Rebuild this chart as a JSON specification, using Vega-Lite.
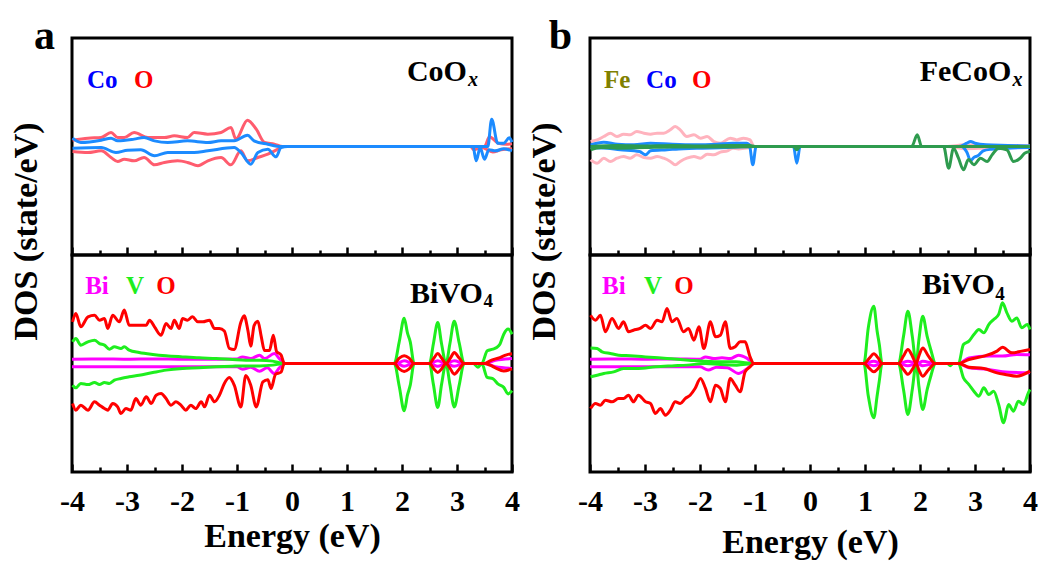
{
  "$schema": "https://vega.github.io/schema/vega-lite/v6.json",
  "background": "white",
  "padding": {"left": 7, "top": 13, "right": 5, "bottom": 5},
  "config": {
    "view": {"stroke": "black", "strokeWidth": 3},
    "axis": {"domain": false, "grid": false, "labelFont": "Liberation Serif", "labelFontWeight": "bold", "labelFontSize": 30, "labelColor": "black", "titleFont": "Liberation Serif", "titleFontWeight": "bold", "titleFontSize": 34, "titleColor": "black", "tickColor": "black", "tickWidth": 2.5},
    "text": {"font": "Liberation Serif", "fontWeight": "bold"},
    "line": {"strokeWidth": 3, "interpolate": "monotone"}
  },
  "datasets": {
    "aTop": [
      {"el":"O","sp":"u","e":-3.99,"d":0.58},{"el":"O","sp":"u","e":-3.71,"d":0.77},{"el":"O","sp":"u","e":-3.47,"d":0.83},{"el":"O","sp":"u","e":-3.29,"d":1.29},{"el":"O","sp":"u","e":-3.17,"d":0.83},{"el":"O","sp":"u","e":-3.05,"d":0.83},{"el":"O","sp":"u","e":-2.87,"d":1.29},{"el":"O","sp":"u","e":-2.62,"d":0.83},{"el":"O","sp":"u","e":-2.32,"d":0.83},{"el":"O","sp":"u","e":-2.14,"d":0.98},{"el":"O","sp":"u","e":-1.9,"d":0.83},{"el":"O","sp":"u","e":-1.78,"d":1.29},{"el":"O","sp":"u","e":-1.53,"d":1.14},{"el":"O","sp":"u","e":-1.29,"d":1.29},{"el":"O","sp":"u","e":-1.11,"d":1.75},{"el":"O","sp":"u","e":-1.02,"d":0.68},{"el":"O","sp":"u","e":-0.81,"d":2.43},{"el":"O","sp":"u","e":-0.65,"d":1.6},{"el":"O","sp":"u","e":-0.5,"d":0.37},{"el":"O","sp":"u","e":-0.32,"d":0.21},{"el":"O","sp":"u","e":-0.17,"d":0},{"el":"O","sp":"u","e":3.5,"d":0},{"el":"O","sp":"u","e":3.59,"d":0.9},{"el":"O","sp":"u","e":3.75,"d":0.3},{"el":"O","sp":"u","e":3.9,"d":0.2},{"el":"O","sp":"u","e":4,"d":0.25},
      {"el":"O","sp":"d","e":-3.99,"d":-0.46},{"el":"O","sp":"d","e":-3.71,"d":-0.55},{"el":"O","sp":"d","e":-3.47,"d":-0.4},{"el":"O","sp":"d","e":-3.29,"d":-1.01},{"el":"O","sp":"d","e":-3.17,"d":-1.38},{"el":"O","sp":"d","e":-3.05,"d":-1.17},{"el":"O","sp":"d","e":-2.87,"d":-1.32},{"el":"O","sp":"d","e":-2.69,"d":-1.01},{"el":"O","sp":"d","e":-2.5,"d":-1.69},{"el":"O","sp":"d","e":-2.32,"d":-1.47},{"el":"O","sp":"d","e":-2.08,"d":-1.32},{"el":"O","sp":"d","e":-1.9,"d":-1.47},{"el":"O","sp":"d","e":-1.71,"d":-1.78},{"el":"O","sp":"d","e":-1.53,"d":-1.32},{"el":"O","sp":"d","e":-1.29,"d":-1.01},{"el":"O","sp":"d","e":-1.11,"d":-1.69},{"el":"O","sp":"d","e":-0.93,"d":-0.4},{"el":"O","sp":"d","e":-0.81,"d":-1.32},{"el":"O","sp":"d","e":-0.62,"d":-1.01},{"el":"O","sp":"d","e":-0.44,"d":-0.71},{"el":"O","sp":"d","e":-0.26,"d":-0.25},{"el":"O","sp":"d","e":-0.17,"d":0},{"el":"O","sp":"d","e":3.25,"d":0},{"el":"O","sp":"d","e":3.3,"d":-0.3},{"el":"O","sp":"d","e":3.45,"d":-0.1},{"el":"O","sp":"d","e":3.65,"d":-0.5},{"el":"O","sp":"d","e":3.8,"d":-0.3},{"el":"O","sp":"d","e":4,"d":-0.2},
      {"el":"Co","sp":"u","e":-3.99,"d":0.77},{"el":"Co","sp":"u","e":-3.84,"d":0.37},{"el":"Co","sp":"u","e":-3.47,"d":0.58},{"el":"Co","sp":"u","e":-3.29,"d":0.77},{"el":"Co","sp":"u","e":-3.17,"d":0.52},{"el":"Co","sp":"u","e":-2.87,"d":0.68},{"el":"Co","sp":"u","e":-2.69,"d":0.83},{"el":"Co","sp":"u","e":-2.5,"d":0.52},{"el":"Co","sp":"u","e":-2.26,"d":0.37},{"el":"Co","sp":"u","e":-1.9,"d":0.52},{"el":"Co","sp":"u","e":-1.53,"d":0.37},{"el":"Co","sp":"u","e":-1.29,"d":0.52},{"el":"Co","sp":"u","e":-1.05,"d":0.52},{"el":"Co","sp":"u","e":-0.81,"d":1.04},{"el":"Co","sp":"u","e":-0.69,"d":0.52},{"el":"Co","sp":"u","e":-0.44,"d":0.21},{"el":"Co","sp":"u","e":-0.2,"d":0},{"el":"Co","sp":"u","e":3.56,"d":0},{"el":"Co","sp":"u","e":3.63,"d":2.52},{"el":"Co","sp":"u","e":3.74,"d":0.3},{"el":"Co","sp":"u","e":3.85,"d":0.3},{"el":"Co","sp":"u","e":3.95,"d":0.8},{"el":"Co","sp":"u","e":4,"d":0.4},
      {"el":"Co","sp":"d","e":-3.99,"d":-0.15},{"el":"Co","sp":"d","e":-3.47,"d":-0.1},{"el":"Co","sp":"d","e":-3.2,"d":-0.55},{"el":"Co","sp":"d","e":-2.99,"d":-0.34},{"el":"Co","sp":"d","e":-2.75,"d":-0.31},{"el":"Co","sp":"d","e":-2.5,"d":-0.86},{"el":"Co","sp":"d","e":-2.26,"d":-0.55},{"el":"Co","sp":"d","e":-1.78,"d":-0.55},{"el":"Co","sp":"d","e":-1.53,"d":-0.4},{"el":"Co","sp":"d","e":-1.05,"d":-0.1},{"el":"Co","sp":"d","e":-0.93,"d":-0.55},{"el":"Co","sp":"d","e":-0.75,"d":-1.63},{"el":"Co","sp":"d","e":-0.62,"d":-0.55},{"el":"Co","sp":"d","e":-0.44,"d":-0.25},{"el":"Co","sp":"d","e":-0.29,"d":-0.95},{"el":"Co","sp":"d","e":-0.2,"d":-0.1},{"el":"Co","sp":"d","e":-0.08,"d":0},{"el":"Co","sp":"d","e":3.29,"d":0},{"el":"Co","sp":"d","e":3.35,"d":-1.32},{"el":"Co","sp":"d","e":3.42,"d":-0.1},{"el":"Co","sp":"d","e":3.5,"d":-1.17},{"el":"Co","sp":"d","e":3.58,"d":-0.3},{"el":"Co","sp":"d","e":3.7,"d":-0.4},{"el":"Co","sp":"d","e":3.85,"d":-0.2},{"el":"Co","sp":"d","e":4,"d":-0.4}
    ],
    "aBot": [
      {"el":"Bi","sp":"u","e":-4,"d":0.4},{"el":"Bi","sp":"u","e":-3.5,"d":0.42},{"el":"Bi","sp":"u","e":-3,"d":0.4},{"el":"Bi","sp":"u","e":-2.5,"d":0.42},{"el":"Bi","sp":"u","e":-2,"d":0.4},{"el":"Bi","sp":"u","e":-1.5,"d":0.4},{"el":"Bi","sp":"u","e":-1,"d":0.42},{"el":"Bi","sp":"u","e":-0.9,"d":0.61},{"el":"Bi","sp":"u","e":-0.75,"d":0.45},{"el":"Bi","sp":"u","e":-0.59,"d":0.77},{"el":"Bi","sp":"u","e":-0.5,"d":0.45},{"el":"Bi","sp":"u","e":-0.32,"d":0.92},{"el":"Bi","sp":"u","e":-0.23,"d":0.45},{"el":"Bi","sp":"u","e":-0.12,"d":0},{"el":"Bi","sp":"u","e":1.9,"d":0},{"el":"Bi","sp":"u","e":2.04,"d":0.25},{"el":"Bi","sp":"u","e":2.2,"d":0},{"el":"Bi","sp":"u","e":2.5,"d":0},{"el":"Bi","sp":"u","e":2.65,"d":0.25},{"el":"Bi","sp":"u","e":2.8,"d":0},{"el":"Bi","sp":"u","e":2.95,"d":0.25},{"el":"Bi","sp":"u","e":3.13,"d":0},{"el":"Bi","sp":"u","e":3.5,"d":0},{"el":"Bi","sp":"u","e":3.7,"d":0.3},{"el":"Bi","sp":"u","e":4,"d":0.45},
      {"el":"Bi","sp":"d","e":-4,"d":-0.31},{"el":"Bi","sp":"d","e":-3,"d":-0.31},{"el":"Bi","sp":"d","e":-2,"d":-0.31},{"el":"Bi","sp":"d","e":-1,"d":-0.31},{"el":"Bi","sp":"d","e":-0.9,"d":-0.52},{"el":"Bi","sp":"d","e":-0.75,"d":-0.35},{"el":"Bi","sp":"d","e":-0.59,"d":-0.71},{"el":"Bi","sp":"d","e":-0.45,"d":-0.4},{"el":"Bi","sp":"d","e":-0.32,"d":-0.92},{"el":"Bi","sp":"d","e":-0.23,"d":-0.4},{"el":"Bi","sp":"d","e":-0.12,"d":0},{"el":"Bi","sp":"d","e":1.9,"d":0},{"el":"Bi","sp":"d","e":2.04,"d":-0.25},{"el":"Bi","sp":"d","e":2.2,"d":0},{"el":"Bi","sp":"d","e":2.5,"d":0},{"el":"Bi","sp":"d","e":2.65,"d":-0.25},{"el":"Bi","sp":"d","e":2.8,"d":0},{"el":"Bi","sp":"d","e":2.95,"d":-0.25},{"el":"Bi","sp":"d","e":3.13,"d":0},{"el":"Bi","sp":"d","e":3.5,"d":0},{"el":"Bi","sp":"d","e":3.7,"d":-0.3},{"el":"Bi","sp":"d","e":4,"d":-0.45},
      {"el":"V","sp":"u","e":-3.99,"d":2.0},{"el":"V","sp":"u","e":-3.93,"d":2.3},{"el":"V","sp":"u","e":-3.84,"d":1.69},{"el":"V","sp":"u","e":-3.71,"d":2.0},{"el":"V","sp":"u","e":-3.59,"d":2.15},{"el":"V","sp":"u","e":-3.5,"d":1.84},{"el":"V","sp":"u","e":-3.41,"d":1.69},{"el":"V","sp":"u","e":-3.32,"d":1.32},{"el":"V","sp":"u","e":-3.23,"d":1.54},{"el":"V","sp":"u","e":-3.11,"d":1.38},{"el":"V","sp":"u","e":-3.05,"d":1.54},{"el":"V","sp":"u","e":-2.96,"d":1.23},{"el":"V","sp":"u","e":-2.78,"d":1.01},{"el":"V","sp":"u","e":-2.53,"d":0.83},{"el":"V","sp":"u","e":-2.29,"d":0.71},{"el":"V","sp":"u","e":-1.99,"d":0.61},{"el":"V","sp":"u","e":-1.69,"d":0.52},{"el":"V","sp":"u","e":-1.38,"d":0.46},{"el":"V","sp":"u","e":-1.08,"d":0.37},{"el":"V","sp":"u","e":-0.84,"d":0.31},{"el":"V","sp":"u","e":-0.59,"d":0.31},{"el":"V","sp":"u","e":-0.35,"d":0.22},{"el":"V","sp":"u","e":-0.14,"d":0},{"el":"V","sp":"u","e":1.86,"d":0},{"el":"V","sp":"u","e":1.95,"d":2.0},{"el":"V","sp":"u","e":2.04,"d":4.18},{"el":"V","sp":"u","e":2.1,"d":2.8},{"el":"V","sp":"u","e":2.15,"d":2.0},{"el":"V","sp":"u","e":2.22,"d":0},{"el":"V","sp":"u","e":2.5,"d":0},{"el":"V","sp":"u","e":2.57,"d":1.8},{"el":"V","sp":"u","e":2.65,"d":3.78},{"el":"V","sp":"u","e":2.72,"d":1.8},{"el":"V","sp":"u","e":2.8,"d":0},{"el":"V","sp":"u","e":2.87,"d":1.8},{"el":"V","sp":"u","e":2.95,"d":3.9},{"el":"V","sp":"u","e":3.04,"d":1.9},{"el":"V","sp":"u","e":3.13,"d":0},{"el":"V","sp":"u","e":3.45,"d":0},{"el":"V","sp":"u","e":3.55,"d":1.17},{"el":"V","sp":"u","e":3.65,"d":1.32},{"el":"V","sp":"u","e":3.72,"d":1.47},{"el":"V","sp":"u","e":3.78,"d":1.78},{"el":"V","sp":"u","e":3.85,"d":2.7},{"el":"V","sp":"u","e":3.93,"d":3.17},{"el":"V","sp":"u","e":4,"d":2.7},
      {"el":"V","sp":"d","e":-3.99,"d":-2.0},{"el":"V","sp":"d","e":-3.93,"d":-2.24},{"el":"V","sp":"d","e":-3.84,"d":-1.84},{"el":"V","sp":"d","e":-3.71,"d":-1.94},{"el":"V","sp":"d","e":-3.59,"d":-1.75},{"el":"V","sp":"d","e":-3.5,"d":-1.94},{"el":"V","sp":"d","e":-3.41,"d":-1.75},{"el":"V","sp":"d","e":-3.32,"d":-1.84},{"el":"V","sp":"d","e":-3.23,"d":-1.54},{"el":"V","sp":"d","e":-3.11,"d":-1.38},{"el":"V","sp":"d","e":-2.96,"d":-1.23},{"el":"V","sp":"d","e":-2.78,"d":-1.08},{"el":"V","sp":"d","e":-2.53,"d":-0.83},{"el":"V","sp":"d","e":-2.29,"d":-0.61},{"el":"V","sp":"d","e":-1.99,"d":-0.46},{"el":"V","sp":"d","e":-1.69,"d":-0.4},{"el":"V","sp":"d","e":-1.38,"d":-0.31},{"el":"V","sp":"d","e":-1.08,"d":-0.25},{"el":"V","sp":"d","e":-0.84,"d":-0.22},{"el":"V","sp":"d","e":-0.59,"d":-0.22},{"el":"V","sp":"d","e":-0.35,"d":-0.15},{"el":"V","sp":"d","e":-0.14,"d":0},{"el":"V","sp":"d","e":1.86,"d":0},{"el":"V","sp":"d","e":1.95,"d":-2.1},{"el":"V","sp":"d","e":2.04,"d":-4.36},{"el":"V","sp":"d","e":2.1,"d":-2.9},{"el":"V","sp":"d","e":2.15,"d":-2.0},{"el":"V","sp":"d","e":2.22,"d":0},{"el":"V","sp":"d","e":2.5,"d":0},{"el":"V","sp":"d","e":2.57,"d":-1.9},{"el":"V","sp":"d","e":2.65,"d":-4.05},{"el":"V","sp":"d","e":2.72,"d":-1.9},{"el":"V","sp":"d","e":2.8,"d":0},{"el":"V","sp":"d","e":2.87,"d":-1.9},{"el":"V","sp":"d","e":2.95,"d":-4.0},{"el":"V","sp":"d","e":3.04,"d":-2.0},{"el":"V","sp":"d","e":3.13,"d":0},{"el":"V","sp":"d","e":3.3,"d":0},{"el":"V","sp":"d","e":3.38,"d":-0.35},{"el":"V","sp":"d","e":3.45,"d":0},{"el":"V","sp":"d","e":3.55,"d":-1.29},{"el":"V","sp":"d","e":3.65,"d":-1.4},{"el":"V","sp":"d","e":3.75,"d":-1.9},{"el":"V","sp":"d","e":3.85,"d":-2.2},{"el":"V","sp":"d","e":3.93,"d":-2.8},{"el":"V","sp":"d","e":4,"d":-2.5},
      {"el":"O","sp":"u","e":-3.99,"d":3.84},{"el":"O","sp":"u","e":-3.93,"d":4.61},{"el":"O","sp":"u","e":-3.84,"d":3.38},{"el":"O","sp":"u","e":-3.71,"d":4.3},{"el":"O","sp":"u","e":-3.59,"d":4.45},{"el":"O","sp":"u","e":-3.5,"d":3.99},{"el":"O","sp":"u","e":-3.41,"d":4.15},{"el":"O","sp":"u","e":-3.35,"d":3.23},{"el":"O","sp":"u","e":-3.26,"d":4.45},{"el":"O","sp":"u","e":-3.14,"d":3.84},{"el":"O","sp":"u","e":-3.05,"d":4.92},{"el":"O","sp":"u","e":-2.96,"d":3.53},{"el":"O","sp":"u","e":-2.84,"d":3.53},{"el":"O","sp":"u","e":-2.65,"d":3.53},{"el":"O","sp":"u","e":-2.59,"d":3.99},{"el":"O","sp":"u","e":-2.5,"d":3.38},{"el":"O","sp":"u","e":-2.38,"d":2.61},{"el":"O","sp":"u","e":-2.29,"d":3.69},{"el":"O","sp":"u","e":-2.2,"d":3.23},{"el":"O","sp":"u","e":-2.14,"d":3.99},{"el":"O","sp":"u","e":-2.05,"d":3.23},{"el":"O","sp":"u","e":-1.99,"d":4.15},{"el":"O","sp":"u","e":-1.9,"d":3.99},{"el":"O","sp":"u","e":-1.81,"d":4.3},{"el":"O","sp":"u","e":-1.71,"d":3.84},{"el":"O","sp":"u","e":-1.62,"d":3.84},{"el":"O","sp":"u","e":-1.5,"d":3.99},{"el":"O","sp":"u","e":-1.41,"d":3.23},{"el":"O","sp":"u","e":-1.32,"d":3.23},{"el":"O","sp":"u","e":-1.23,"d":3.0},{"el":"O","sp":"u","e":-1.14,"d":1.4},{"el":"O","sp":"u","e":-1.05,"d":1.3},{"el":"O","sp":"u","e":-0.93,"d":3.8},{"el":"O","sp":"u","e":-0.87,"d":4.4},{"el":"O","sp":"u","e":-0.8,"d":3.0},{"el":"O","sp":"u","e":-0.75,"d":1.6},{"el":"O","sp":"u","e":-0.69,"d":3.5},{"el":"O","sp":"u","e":-0.62,"d":3.9},{"el":"O","sp":"u","e":-0.56,"d":2.5},{"el":"O","sp":"u","e":-0.5,"d":1.2},{"el":"O","sp":"u","e":-0.41,"d":1.2},{"el":"O","sp":"u","e":-0.34,"d":2.6},{"el":"O","sp":"u","e":-0.28,"d":1.1},{"el":"O","sp":"u","e":-0.2,"d":0.8},{"el":"O","sp":"u","e":-0.14,"d":0},{"el":"O","sp":"u","e":1.86,"d":0},{"el":"O","sp":"u","e":1.95,"d":0.5},{"el":"O","sp":"u","e":2.04,"d":0.71},{"el":"O","sp":"u","e":2.13,"d":0.5},{"el":"O","sp":"u","e":2.22,"d":0},{"el":"O","sp":"u","e":2.5,"d":0},{"el":"O","sp":"u","e":2.58,"d":0.5},{"el":"O","sp":"u","e":2.65,"d":0.92},{"el":"O","sp":"u","e":2.72,"d":0.5},{"el":"O","sp":"u","e":2.8,"d":0},{"el":"O","sp":"u","e":2.88,"d":0.5},{"el":"O","sp":"u","e":2.95,"d":1.01},{"el":"O","sp":"u","e":3.04,"d":0.5},{"el":"O","sp":"u","e":3.13,"d":0},{"el":"O","sp":"u","e":3.5,"d":0},{"el":"O","sp":"u","e":3.6,"d":0.25},{"el":"O","sp":"u","e":3.78,"d":0.55},{"el":"O","sp":"u","e":3.9,"d":0.8},{"el":"O","sp":"u","e":4,"d":0.9},
      {"el":"O","sp":"d","e":-3.99,"d":-3.69},{"el":"O","sp":"d","e":-3.93,"d":-4.3},{"el":"O","sp":"d","e":-3.84,"d":-3.84},{"el":"O","sp":"d","e":-3.71,"d":-4.3},{"el":"O","sp":"d","e":-3.59,"d":-3.53},{"el":"O","sp":"d","e":-3.5,"d":-3.84},{"el":"O","sp":"d","e":-3.41,"d":-4.15},{"el":"O","sp":"d","e":-3.35,"d":-4.3},{"el":"O","sp":"d","e":-3.26,"d":-3.69},{"el":"O","sp":"d","e":-3.17,"d":-3.99},{"el":"O","sp":"d","e":-3.11,"d":-4.61},{"el":"O","sp":"d","e":-3.02,"d":-4.15},{"el":"O","sp":"d","e":-2.93,"d":-4.3},{"el":"O","sp":"d","e":-2.84,"d":-3.23},{"el":"O","sp":"d","e":-2.75,"d":-3.84},{"el":"O","sp":"d","e":-2.65,"d":-3.07},{"el":"O","sp":"d","e":-2.56,"d":-3.69},{"el":"O","sp":"d","e":-2.47,"d":-2.92},{"el":"O","sp":"d","e":-2.38,"d":-2.76},{"el":"O","sp":"d","e":-2.29,"d":-3.23},{"el":"O","sp":"d","e":-2.2,"d":-3.84},{"el":"O","sp":"d","e":-2.11,"d":-3.53},{"el":"O","sp":"d","e":-2.02,"d":-3.84},{"el":"O","sp":"d","e":-1.93,"d":-4.3},{"el":"O","sp":"d","e":-1.84,"d":-3.84},{"el":"O","sp":"d","e":-1.75,"d":-4.15},{"el":"O","sp":"d","e":-1.65,"d":-3.53},{"el":"O","sp":"d","e":-1.59,"d":-3.99},{"el":"O","sp":"d","e":-1.5,"d":-2.92},{"el":"O","sp":"d","e":-1.41,"d":-3.53},{"el":"O","sp":"d","e":-1.32,"d":-2.92},{"el":"O","sp":"d","e":-1.23,"d":-1.84},{"el":"O","sp":"d","e":-1.14,"d":-1.3},{"el":"O","sp":"d","e":-1.05,"d":-2.0},{"el":"O","sp":"d","e":-0.93,"d":-4.0},{"el":"O","sp":"d","e":-0.84,"d":-1.1},{"el":"O","sp":"d","e":-0.75,"d":-2.0},{"el":"O","sp":"d","e":-0.65,"d":-4.0},{"el":"O","sp":"d","e":-0.53,"d":-1.7},{"el":"O","sp":"d","e":-0.44,"d":-1.5},{"el":"O","sp":"d","e":-0.38,"d":-2.3},{"el":"O","sp":"d","e":-0.3,"d":-1.0},{"el":"O","sp":"d","e":-0.2,"d":-0.8},{"el":"O","sp":"d","e":-0.14,"d":0},{"el":"O","sp":"d","e":1.86,"d":0},{"el":"O","sp":"d","e":1.95,"d":-0.5},{"el":"O","sp":"d","e":2.04,"d":-0.74},{"el":"O","sp":"d","e":2.13,"d":-0.5},{"el":"O","sp":"d","e":2.22,"d":0},{"el":"O","sp":"d","e":2.5,"d":0},{"el":"O","sp":"d","e":2.58,"d":-0.5},{"el":"O","sp":"d","e":2.65,"d":-0.83},{"el":"O","sp":"d","e":2.72,"d":-0.5},{"el":"O","sp":"d","e":2.8,"d":0},{"el":"O","sp":"d","e":2.88,"d":-0.5},{"el":"O","sp":"d","e":2.95,"d":-0.98},{"el":"O","sp":"d","e":3.04,"d":-0.5},{"el":"O","sp":"d","e":3.13,"d":0},{"el":"O","sp":"d","e":3.5,"d":0},{"el":"O","sp":"d","e":3.6,"d":-0.15},{"el":"O","sp":"d","e":3.7,"d":-0.4},{"el":"O","sp":"d","e":3.85,"d":-0.68},{"el":"O","sp":"d","e":4,"d":-0.5}
    ],
    "bTop": [
      {"el":"O","sp":"u","e":-3.99,"d":0.46},{"el":"O","sp":"u","e":-3.87,"d":0.61},{"el":"O","sp":"u","e":-3.75,"d":0.92},{"el":"O","sp":"u","e":-3.63,"d":1.23},{"el":"O","sp":"u","e":-3.51,"d":0.92},{"el":"O","sp":"u","e":-3.39,"d":1.14},{"el":"O","sp":"u","e":-3.27,"d":1.08},{"el":"O","sp":"u","e":-3.15,"d":1.38},{"el":"O","sp":"u","e":-3.02,"d":1.23},{"el":"O","sp":"u","e":-2.9,"d":1.14},{"el":"O","sp":"u","e":-2.78,"d":1.23},{"el":"O","sp":"u","e":-2.66,"d":1.23},{"el":"O","sp":"u","e":-2.54,"d":1.54},{"el":"O","sp":"u","e":-2.45,"d":1.84},{"el":"O","sp":"u","e":-2.36,"d":1.54},{"el":"O","sp":"u","e":-2.24,"d":0.92},{"el":"O","sp":"u","e":-2.11,"d":1.08},{"el":"O","sp":"u","e":-1.99,"d":0.77},{"el":"O","sp":"u","e":-1.87,"d":0.92},{"el":"O","sp":"u","e":-1.75,"d":0.46},{"el":"O","sp":"u","e":-1.63,"d":0.31},{"el":"O","sp":"u","e":-1.45,"d":0.77},{"el":"O","sp":"u","e":-1.33,"d":0.61},{"el":"O","sp":"u","e":-1.21,"d":0.77},{"el":"O","sp":"u","e":-1.09,"d":0.61},{"el":"O","sp":"u","e":-1.02,"d":0},{"el":"O","sp":"u","e":2.5,"d":0},{"el":"O","sp":"u","e":2.8,"d":0.15},{"el":"O","sp":"u","e":3.2,"d":0.1},{"el":"O","sp":"u","e":3.6,"d":0.1},{"el":"O","sp":"u","e":4,"d":0.05},
      {"el":"O","sp":"d","e":-3.99,"d":-1.23},{"el":"O","sp":"d","e":-3.87,"d":-1.54},{"el":"O","sp":"d","e":-3.75,"d":-1.08},{"el":"O","sp":"d","e":-3.63,"d":-1.38},{"el":"O","sp":"d","e":-3.51,"d":-1.08},{"el":"O","sp":"d","e":-3.39,"d":-0.92},{"el":"O","sp":"d","e":-3.27,"d":-1.08},{"el":"O","sp":"d","e":-3.15,"d":-0.77},{"el":"O","sp":"d","e":-3.02,"d":-1.01},{"el":"O","sp":"d","e":-2.9,"d":-1.08},{"el":"O","sp":"d","e":-2.78,"d":-0.92},{"el":"O","sp":"d","e":-2.66,"d":-1.08},{"el":"O","sp":"d","e":-2.54,"d":-1.38},{"el":"O","sp":"d","e":-2.45,"d":-1.69},{"el":"O","sp":"d","e":-2.36,"d":-1.38},{"el":"O","sp":"d","e":-2.24,"d":-1.08},{"el":"O","sp":"d","e":-2.11,"d":-0.92},{"el":"O","sp":"d","e":-1.99,"d":-1.08},{"el":"O","sp":"d","e":-1.87,"d":-0.71},{"el":"O","sp":"d","e":-1.75,"d":-0.77},{"el":"O","sp":"d","e":-1.63,"d":-0.52},{"el":"O","sp":"d","e":-1.5,"d":-0.4},{"el":"O","sp":"d","e":-1.4,"d":-0.15},{"el":"O","sp":"d","e":-1.3,"d":-0.22},{"el":"O","sp":"d","e":-1.15,"d":-0.15},{"el":"O","sp":"d","e":-1.02,"d":0},{"el":"O","sp":"d","e":2.5,"d":0},{"el":"O","sp":"d","e":2.8,"d":-0.2},{"el":"O","sp":"d","e":3.2,"d":-0.15},{"el":"O","sp":"d","e":3.6,"d":-0.1},{"el":"O","sp":"d","e":4,"d":-0.05},
      {"el":"Co","sp":"u","e":-3.99,"d":0.15},{"el":"Co","sp":"u","e":-3.75,"d":0.4},{"el":"Co","sp":"u","e":-3.5,"d":0.2},{"el":"Co","sp":"u","e":-3.2,"d":0.15},{"el":"Co","sp":"u","e":-2.9,"d":0.3},{"el":"Co","sp":"u","e":-2.5,"d":0.2},{"el":"Co","sp":"u","e":-2.1,"d":0.15},{"el":"Co","sp":"u","e":-1.7,"d":0.2},{"el":"Co","sp":"u","e":-1.4,"d":0.3},{"el":"Co","sp":"u","e":-1.15,"d":0.3},{"el":"Co","sp":"u","e":-1.05,"d":0},{"el":"Co","sp":"u","e":2.7,"d":0},{"el":"Co","sp":"u","e":2.85,"d":0.3},{"el":"Co","sp":"u","e":2.92,"d":0.46},{"el":"Co","sp":"u","e":3.0,"d":0.3},{"el":"Co","sp":"u","e":3.2,"d":0.15},{"el":"Co","sp":"u","e":3.6,"d":0.1},{"el":"Co","sp":"u","e":4,"d":0.05},
      {"el":"Co","sp":"d","e":-3.99,"d":-0.1},{"el":"Co","sp":"d","e":-3.75,"d":-0.15},{"el":"Co","sp":"d","e":-3.45,"d":-0.3},{"el":"Co","sp":"d","e":-3.1,"d":-0.46},{"el":"Co","sp":"d","e":-2.99,"d":-0.77},{"el":"Co","sp":"d","e":-2.9,"d":-0.4},{"el":"Co","sp":"d","e":-2.6,"d":-0.3},{"el":"Co","sp":"d","e":-2.3,"d":-0.2},{"el":"Co","sp":"d","e":-2.0,"d":-0.15},{"el":"Co","sp":"d","e":-1.5,"d":-0.1},{"el":"Co","sp":"d","e":-1.1,"d":0},{"el":"Co","sp":"d","e":-1.04,"d":-1.69},{"el":"Co","sp":"d","e":-0.98,"d":0},{"el":"Co","sp":"d","e":-0.3,"d":0},{"el":"Co","sp":"d","e":-0.24,"d":-1.54},{"el":"Co","sp":"d","e":-0.18,"d":0},{"el":"Co","sp":"d","e":2.75,"d":0},{"el":"Co","sp":"d","e":2.85,"d":-0.5},{"el":"Co","sp":"d","e":2.92,"d":-1.3},{"el":"Co","sp":"d","e":2.98,"d":-1.0},{"el":"Co","sp":"d","e":3.05,"d":-0.86},{"el":"Co","sp":"d","e":3.15,"d":-0.4},{"el":"Co","sp":"d","e":3.3,"d":-0.25},{"el":"Co","sp":"d","e":3.6,"d":-0.15},{"el":"Co","sp":"d","e":4,"d":-0.1},
      {"el":"Fe","sp":"u","e":-3.99,"d":0.0},{"el":"Fe","sp":"u","e":-3.5,"d":0.1},{"el":"Fe","sp":"u","e":-3.0,"d":0.05},{"el":"Fe","sp":"u","e":-2.5,"d":0.1},{"el":"Fe","sp":"u","e":-2.0,"d":0.05},{"el":"Fe","sp":"u","e":-1.5,"d":0.1},{"el":"Fe","sp":"u","e":-1.1,"d":0.1},{"el":"Fe","sp":"u","e":-1.0,"d":0},{"el":"Fe","sp":"u","e":1.85,"d":0},{"el":"Fe","sp":"u","e":1.95,"d":1.08},{"el":"Fe","sp":"u","e":2.03,"d":0},{"el":"Fe","sp":"u","e":4,"d":0},
      {"el":"Fe","sp":"d","e":-3.99,"d":-0.3},{"el":"Fe","sp":"d","e":-3.8,"d":-0.1},{"el":"Fe","sp":"d","e":-3.5,"d":-0.15},{"el":"Fe","sp":"d","e":-3.0,"d":-0.1},{"el":"Fe","sp":"d","e":-2.5,"d":-0.05},{"el":"Fe","sp":"d","e":-2.0,"d":-0.05},{"el":"Fe","sp":"d","e":-1.5,"d":-0.05},{"el":"Fe","sp":"d","e":-1.0,"d":0},{"el":"Fe","sp":"d","e":-0.3,"d":0},{"el":"Fe","sp":"d","e":-0.24,"d":-0.3},{"el":"Fe","sp":"d","e":-0.18,"d":0},{"el":"Fe","sp":"d","e":2.43,"d":0},{"el":"Fe","sp":"d","e":2.52,"d":-2.0},{"el":"Fe","sp":"d","e":2.61,"d":-0.15},{"el":"Fe","sp":"d","e":2.7,"d":-1.08},{"el":"Fe","sp":"d","e":2.79,"d":-2.15},{"el":"Fe","sp":"d","e":2.88,"d":-1.2},{"el":"Fe","sp":"d","e":2.98,"d":-1.69},{"el":"Fe","sp":"d","e":3.1,"d":-1.08},{"el":"Fe","sp":"d","e":3.22,"d":-1.38},{"el":"Fe","sp":"d","e":3.31,"d":-0.77},{"el":"Fe","sp":"d","e":3.43,"d":-0.15},{"el":"Fe","sp":"d","e":3.58,"d":-0.3},{"el":"Fe","sp":"d","e":3.7,"d":-1.38},{"el":"Fe","sp":"d","e":3.82,"d":-1.08},{"el":"Fe","sp":"d","e":3.91,"d":-0.6},{"el":"Fe","sp":"d","e":4,"d":-0.46}
    ],
    "bBot": [
      {"el":"Bi","sp":"u","e":-4,"d":0.4},{"el":"Bi","sp":"u","e":-3.5,"d":0.42},{"el":"Bi","sp":"u","e":-3,"d":0.4},{"el":"Bi","sp":"u","e":-2.5,"d":0.42},{"el":"Bi","sp":"u","e":-2,"d":0.4},{"el":"Bi","sp":"u","e":-1.9,"d":0.61},{"el":"Bi","sp":"u","e":-1.75,"d":0.45},{"el":"Bi","sp":"u","e":-1.6,"d":0.52},{"el":"Bi","sp":"u","e":-1.45,"d":0.45},{"el":"Bi","sp":"u","e":-1.3,"d":0.77},{"el":"Bi","sp":"u","e":-1.15,"d":0.5},{"el":"Bi","sp":"u","e":-1.02,"d":0},{"el":"Bi","sp":"u","e":0.98,"d":0},{"el":"Bi","sp":"u","e":1.16,"d":0.2},{"el":"Bi","sp":"u","e":1.31,"d":0},{"el":"Bi","sp":"u","e":1.61,"d":0},{"el":"Bi","sp":"u","e":1.78,"d":0.2},{"el":"Bi","sp":"u","e":1.95,"d":0},{"el":"Bi","sp":"u","e":2.05,"d":0.2},{"el":"Bi","sp":"u","e":2.28,"d":0},{"el":"Bi","sp":"u","e":2.7,"d":0},{"el":"Bi","sp":"u","e":2.89,"d":0.52},{"el":"Bi","sp":"u","e":3.25,"d":0.68},{"el":"Bi","sp":"u","e":3.5,"d":0.68},{"el":"Bi","sp":"u","e":3.76,"d":0.83},{"el":"Bi","sp":"u","e":4,"d":0.8},
      {"el":"Bi","sp":"d","e":-4,"d":-0.31},{"el":"Bi","sp":"d","e":-3,"d":-0.31},{"el":"Bi","sp":"d","e":-2,"d":-0.31},{"el":"Bi","sp":"d","e":-1.85,"d":-0.6},{"el":"Bi","sp":"d","e":-1.7,"d":-0.35},{"el":"Bi","sp":"d","e":-1.5,"d":-0.4},{"el":"Bi","sp":"d","e":-1.3,"d":-0.92},{"el":"Bi","sp":"d","e":-1.15,"d":-0.5},{"el":"Bi","sp":"d","e":-1.02,"d":0},{"el":"Bi","sp":"d","e":0.98,"d":0},{"el":"Bi","sp":"d","e":1.16,"d":-0.2},{"el":"Bi","sp":"d","e":1.31,"d":0},{"el":"Bi","sp":"d","e":1.61,"d":0},{"el":"Bi","sp":"d","e":1.78,"d":-0.2},{"el":"Bi","sp":"d","e":1.95,"d":0},{"el":"Bi","sp":"d","e":2.05,"d":-0.2},{"el":"Bi","sp":"d","e":2.28,"d":0},{"el":"Bi","sp":"d","e":2.7,"d":0},{"el":"Bi","sp":"d","e":2.89,"d":-0.4},{"el":"Bi","sp":"d","e":3.25,"d":-0.55},{"el":"Bi","sp":"d","e":3.5,"d":-0.77},{"el":"Bi","sp":"d","e":4,"d":-0.86},
      {"el":"V","sp":"u","e":-3.99,"d":1.44},{"el":"V","sp":"u","e":-3.87,"d":1.38},{"el":"V","sp":"u","e":-3.78,"d":1.08},{"el":"V","sp":"u","e":-3.63,"d":0.92},{"el":"V","sp":"u","e":-3.48,"d":0.77},{"el":"V","sp":"u","e":-3.27,"d":0.71},{"el":"V","sp":"u","e":-2.99,"d":0.61},{"el":"V","sp":"u","e":-2.6,"d":0.46},{"el":"V","sp":"u","e":-2.2,"d":0.31},{"el":"V","sp":"u","e":-1.9,"d":0.2},{"el":"V","sp":"u","e":-1.63,"d":0.15},{"el":"V","sp":"u","e":-1.35,"d":0.15},{"el":"V","sp":"u","e":-1.02,"d":0},{"el":"V","sp":"u","e":0.98,"d":0},{"el":"V","sp":"u","e":1.06,"d":3.3},{"el":"V","sp":"u","e":1.16,"d":5.28},{"el":"V","sp":"u","e":1.22,"d":3.0},{"el":"V","sp":"u","e":1.26,"d":1.75},{"el":"V","sp":"u","e":1.31,"d":0},{"el":"V","sp":"u","e":1.61,"d":0},{"el":"V","sp":"u","e":1.7,"d":2.5},{"el":"V","sp":"u","e":1.78,"d":4.82},{"el":"V","sp":"u","e":1.86,"d":2.5},{"el":"V","sp":"u","e":1.93,"d":0},{"el":"V","sp":"u","e":1.98,"d":2.2},{"el":"V","sp":"u","e":2.05,"d":4.36},{"el":"V","sp":"u","e":2.13,"d":2.5},{"el":"V","sp":"u","e":2.2,"d":1.2},{"el":"V","sp":"u","e":2.28,"d":0},{"el":"V","sp":"u","e":2.7,"d":0},{"el":"V","sp":"u","e":2.79,"d":1.75},{"el":"V","sp":"u","e":2.89,"d":2.06},{"el":"V","sp":"u","e":2.98,"d":2.67},{"el":"V","sp":"u","e":3.07,"d":3.13},{"el":"V","sp":"u","e":3.16,"d":2.83},{"el":"V","sp":"u","e":3.25,"d":3.59},{"el":"V","sp":"u","e":3.34,"d":4.06},{"el":"V","sp":"u","e":3.43,"d":4.52},{"el":"V","sp":"u","e":3.5,"d":5.59},{"el":"V","sp":"u","e":3.58,"d":4.67},{"el":"V","sp":"u","e":3.67,"d":3.9},{"el":"V","sp":"u","e":3.76,"d":4.2},{"el":"V","sp":"u","e":3.85,"d":3.29},{"el":"V","sp":"u","e":3.95,"d":3.59},{"el":"V","sp":"u","e":4,"d":3.13},
      {"el":"V","sp":"d","e":-3.99,"d":-1.23},{"el":"V","sp":"d","e":-3.87,"d":-1.08},{"el":"V","sp":"d","e":-3.75,"d":-0.92},{"el":"V","sp":"d","e":-3.57,"d":-0.77},{"el":"V","sp":"d","e":-3.39,"d":-0.46},{"el":"V","sp":"d","e":-3.12,"d":-0.46},{"el":"V","sp":"d","e":-2.81,"d":-0.31},{"el":"V","sp":"d","e":-2.51,"d":-0.22},{"el":"V","sp":"d","e":-2.24,"d":-0.15},{"el":"V","sp":"d","e":-1.9,"d":0},{"el":"V","sp":"d","e":-1.63,"d":-0.1},{"el":"V","sp":"d","e":-1.33,"d":-0.15},{"el":"V","sp":"d","e":-1.02,"d":0},{"el":"V","sp":"d","e":0.98,"d":0},{"el":"V","sp":"d","e":1.06,"d":-3.0},{"el":"V","sp":"d","e":1.16,"d":-5.0},{"el":"V","sp":"d","e":1.22,"d":-3.0},{"el":"V","sp":"d","e":1.26,"d":-1.6},{"el":"V","sp":"d","e":1.31,"d":0},{"el":"V","sp":"d","e":1.61,"d":0},{"el":"V","sp":"d","e":1.7,"d":-2.4},{"el":"V","sp":"d","e":1.78,"d":-4.7},{"el":"V","sp":"d","e":1.86,"d":-2.4},{"el":"V","sp":"d","e":1.93,"d":0},{"el":"V","sp":"d","e":1.98,"d":-2.1},{"el":"V","sp":"d","e":2.05,"d":-4.24},{"el":"V","sp":"d","e":2.13,"d":-2.4},{"el":"V","sp":"d","e":2.2,"d":-1.1},{"el":"V","sp":"d","e":2.28,"d":0},{"el":"V","sp":"d","e":2.5,"d":0},{"el":"V","sp":"d","e":2.55,"d":-0.2},{"el":"V","sp":"d","e":2.6,"d":0},{"el":"V","sp":"d","e":2.7,"d":0},{"el":"V","sp":"d","e":2.79,"d":-1.32},{"el":"V","sp":"d","e":2.89,"d":-1.94},{"el":"V","sp":"d","e":2.98,"d":-2.55},{"el":"V","sp":"d","e":3.07,"d":-3.01},{"el":"V","sp":"d","e":3.16,"d":-2.24},{"el":"V","sp":"d","e":3.25,"d":-2.86},{"el":"V","sp":"d","e":3.34,"d":-2.55},{"el":"V","sp":"d","e":3.43,"d":-3.78},{"el":"V","sp":"d","e":3.52,"d":-5.47},{"el":"V","sp":"d","e":3.61,"d":-3.78},{"el":"V","sp":"d","e":3.7,"d":-4.39},{"el":"V","sp":"d","e":3.79,"d":-3.47},{"el":"V","sp":"d","e":3.88,"d":-3.78},{"el":"V","sp":"d","e":3.97,"d":-2.7},{"el":"V","sp":"d","e":4,"d":-2.4},
      {"el":"O","sp":"u","e":-3.99,"d":4.45},{"el":"O","sp":"u","e":-3.9,"d":3.99},{"el":"O","sp":"u","e":-3.81,"d":4.45},{"el":"O","sp":"u","e":-3.72,"d":2.92},{"el":"O","sp":"u","e":-3.6,"d":4.15},{"el":"O","sp":"u","e":-3.48,"d":3.23},{"el":"O","sp":"u","e":-3.39,"d":3.84},{"el":"O","sp":"u","e":-3.3,"d":2.92},{"el":"O","sp":"u","e":-3.21,"d":3.07},{"el":"O","sp":"u","e":-3.09,"d":3.23},{"el":"O","sp":"u","e":-2.99,"d":3.53},{"el":"O","sp":"u","e":-2.9,"d":3.23},{"el":"O","sp":"u","e":-2.78,"d":3.99},{"el":"O","sp":"u","e":-2.69,"d":3.84},{"el":"O","sp":"u","e":-2.6,"d":5.07},{"el":"O","sp":"u","e":-2.51,"d":3.84},{"el":"O","sp":"u","e":-2.42,"d":4.15},{"el":"O","sp":"u","e":-2.3,"d":2.92},{"el":"O","sp":"u","e":-2.21,"d":3.23},{"el":"O","sp":"u","e":-2.11,"d":2.15},{"el":"O","sp":"u","e":-2.02,"d":3.38},{"el":"O","sp":"u","e":-1.93,"d":1.38},{"el":"O","sp":"u","e":-1.81,"d":3.84},{"el":"O","sp":"u","e":-1.72,"d":2.46},{"el":"O","sp":"u","e":-1.63,"d":2.61},{"el":"O","sp":"u","e":-1.54,"d":3.84},{"el":"O","sp":"u","e":-1.45,"d":1.38},{"el":"O","sp":"u","e":-1.36,"d":1.54},{"el":"O","sp":"u","e":-1.27,"d":2.0},{"el":"O","sp":"u","e":-1.18,"d":2.0},{"el":"O","sp":"u","e":-1.09,"d":0.61},{"el":"O","sp":"u","e":-1.02,"d":0},{"el":"O","sp":"u","e":0.98,"d":0},{"el":"O","sp":"u","e":1.08,"d":0.5},{"el":"O","sp":"u","e":1.16,"d":0.89},{"el":"O","sp":"u","e":1.24,"d":0.5},{"el":"O","sp":"u","e":1.31,"d":0},{"el":"O","sp":"u","e":1.61,"d":0},{"el":"O","sp":"u","e":1.7,"d":0.7},{"el":"O","sp":"u","e":1.78,"d":1.29},{"el":"O","sp":"u","e":1.86,"d":0.7},{"el":"O","sp":"u","e":1.93,"d":0},{"el":"O","sp":"u","e":1.98,"d":0.7},{"el":"O","sp":"u","e":2.05,"d":1.44},{"el":"O","sp":"u","e":2.15,"d":0.7},{"el":"O","sp":"u","e":2.28,"d":0},{"el":"O","sp":"u","e":2.7,"d":0},{"el":"O","sp":"u","e":2.89,"d":0.37},{"el":"O","sp":"u","e":3.16,"d":0.68},{"el":"O","sp":"u","e":3.4,"d":1.14},{"el":"O","sp":"u","e":3.5,"d":1.5},{"el":"O","sp":"u","e":3.67,"d":0.98},{"el":"O","sp":"u","e":3.85,"d":1.14},{"el":"O","sp":"u","e":4,"d":1.29},
      {"el":"O","sp":"d","e":-3.99,"d":-4.15},{"el":"O","sp":"d","e":-3.9,"d":-3.69},{"el":"O","sp":"d","e":-3.81,"d":-3.84},{"el":"O","sp":"d","e":-3.72,"d":-3.38},{"el":"O","sp":"d","e":-3.6,"d":-3.53},{"el":"O","sp":"d","e":-3.48,"d":-3.23},{"el":"O","sp":"d","e":-3.39,"d":-3.23},{"el":"O","sp":"d","e":-3.3,"d":-2.92},{"el":"O","sp":"d","e":-3.21,"d":-3.53},{"el":"O","sp":"d","e":-3.12,"d":-2.92},{"el":"O","sp":"d","e":-2.99,"d":-3.53},{"el":"O","sp":"d","e":-2.9,"d":-3.69},{"el":"O","sp":"d","e":-2.81,"d":-4.61},{"el":"O","sp":"d","e":-2.72,"d":-4.15},{"el":"O","sp":"d","e":-2.63,"d":-4.76},{"el":"O","sp":"d","e":-2.54,"d":-4.3},{"el":"O","sp":"d","e":-2.45,"d":-3.53},{"el":"O","sp":"d","e":-2.36,"d":-3.69},{"el":"O","sp":"d","e":-2.27,"d":-3.23},{"el":"O","sp":"d","e":-2.18,"d":-2.92},{"el":"O","sp":"d","e":-2.09,"d":-2.3},{"el":"O","sp":"d","e":-1.99,"d":-1.38},{"el":"O","sp":"d","e":-1.9,"d":-2.3},{"el":"O","sp":"d","e":-1.81,"d":-3.53},{"el":"O","sp":"d","e":-1.72,"d":-2.0},{"el":"O","sp":"d","e":-1.63,"d":-2.3},{"el":"O","sp":"d","e":-1.54,"d":-3.53},{"el":"O","sp":"d","e":-1.45,"d":-1.38},{"el":"O","sp":"d","e":-1.36,"d":-2.0},{"el":"O","sp":"d","e":-1.27,"d":-2.61},{"el":"O","sp":"d","e":-1.18,"d":-0.77},{"el":"O","sp":"d","e":-1.09,"d":-0.31},{"el":"O","sp":"d","e":-1.02,"d":0},{"el":"O","sp":"d","e":0.98,"d":0},{"el":"O","sp":"d","e":1.08,"d":-0.45},{"el":"O","sp":"d","e":1.16,"d":-0.77},{"el":"O","sp":"d","e":1.24,"d":-0.45},{"el":"O","sp":"d","e":1.31,"d":0},{"el":"O","sp":"d","e":1.61,"d":0},{"el":"O","sp":"d","e":1.7,"d":-0.55},{"el":"O","sp":"d","e":1.78,"d":-1.0},{"el":"O","sp":"d","e":1.86,"d":-0.55},{"el":"O","sp":"d","e":1.93,"d":0},{"el":"O","sp":"d","e":1.98,"d":-0.6},{"el":"O","sp":"d","e":2.05,"d":-1.17},{"el":"O","sp":"d","e":2.15,"d":-0.6},{"el":"O","sp":"d","e":2.28,"d":0},{"el":"O","sp":"d","e":2.7,"d":0},{"el":"O","sp":"d","e":2.89,"d":-0.34},{"el":"O","sp":"d","e":3.16,"d":-0.46},{"el":"O","sp":"d","e":3.4,"d":-0.86},{"el":"O","sp":"d","e":3.55,"d":-1.01},{"el":"O","sp":"d","e":3.76,"d":-1.17},{"el":"O","sp":"d","e":4,"d":-0.7}
    ]
  },
  "spacing": 4,
  "hconcat": [
    {
      "spacing": 0,
      "bounds": "flush",
      "vconcat": [
        {
          "width": 440, "height": 217,
          "encoding": {
            "x": {"field": "e", "type": "quantitative", "scale": {"domain": [-4, 4], "nice": false, "zero": false},
                  "axis": {"values": [-4,-3.5,-3,-2.5,-2,-1.5,-1,-0.5,0,0.5,1,1.5,2,2.5,3,3.5,4], "labels": false, "title": null, "tickSize": {"condition": {"test": "datum.value % 1 === 0", "value": -8}, "value": -5}}},
            "y": {"field": "d", "type": "quantitative", "scale": {"domain": [-10, 10], "nice": false},
                  "axis": {"ticks": false, "labels": false, "title": "DOS (state/eV)", "titleAngle": -90, "titleX": -36, "titleY": 193, "titleAlign": "center", "titleBaseline": "alphabetic"}}
          },
          "layer": [
            {"data": {"name": "aTop"}, "mark": {"type": "line"},
             "encoding": {"color": {"field": "el", "type": "nominal", "scale": {"domain": ["O", "Co"], "range": ["#FF5C6E", "#1C8BFF"]}, "legend": null}, "detail": {"field": "sp", "type": "nominal"}}},
            {"data": {"values": [{"t": "Co", "e": -3.727, "d": 5.35}, {"t": "O", "e": -2.873, "d": 5.35}]},
             "mark": {"type": "text", "align": "left", "baseline": "alphabetic", "fontSize": 25},
             "encoding": {"text": {"field": "t"}, "color": {"field": "t", "type": "nominal", "scale": {"domain": ["Co", "O"], "range": ["#0000FF", "#FF0000"]}, "legend": null}}},
            {"data": {"values": [{"t": "CoO", "e": 3.18, "d": 6.04}]},
             "mark": {"type": "text", "align": "right", "baseline": "alphabetic", "fontSize": 30, "color": "black"},
             "encoding": {"text": {"field": "t"}}},
            {"data": {"values": [{"t": "x", "e": 3.2, "d": 5.58}]},
             "mark": {"type": "text", "align": "left", "baseline": "alphabetic", "fontSize": 20, "fontStyle": "italic", "color": "black"},
             "encoding": {"text": {"field": "t"}}},
            {"data": {"values": [{"t": "a", "e": -4.69, "d": 8.99}]},
             "mark": {"type": "text", "align": "left", "baseline": "alphabetic", "fontSize": 42, "color": "black"},
             "encoding": {"text": {"field": "t"}}}
          ],
          "resolve": {"scale": {"color": "independent"}}
        },
        {
          "width": 440, "height": 217,
          "encoding": {
            "x": {"field": "e", "type": "quantitative", "scale": {"domain": [-4, 4], "nice": false, "zero": false},
                  "axis": {"values": [-4,-3.5,-3,-2.5,-2,-1.5,-1,-0.5,0,0.5,1,1.5,2,2.5,3,3.5,4], "labelExpr": "datum.value % 1 === 0 ? '' + datum.value : ''", "labelFlush": false, "labelOverlap": false, "labelPadding": 22, "title": "Energy (eV)", "titlePadding": 0, "tickSize": {"condition": {"test": "datum.value % 1 === 0", "value": -8}, "value": -5}}},
            "y": {"field": "d", "type": "quantitative", "scale": {"domain": [-10, 10], "nice": false}, "axis": null}
          },
          "layer": [
            {"data": {"name": "aBot"}, "mark": {"type": "line"},
             "encoding": {"color": {"field": "el", "type": "nominal", "scale": {"domain": ["Bi", "V", "O"], "range": ["#FF00FF", "#1EEE1E", "#FF0000"]}, "legend": null}, "detail": {"field": "sp", "type": "nominal"}}},
            {"data": {"values": [{"t": "Bi", "e": -3.76, "d": 6.41}, {"t": "V", "e": -3.02, "d": 6.41}, {"t": "O", "e": -2.47, "d": 6.41}]},
             "mark": {"type": "text", "align": "left", "baseline": "alphabetic", "fontSize": 25},
             "encoding": {"text": {"field": "t"}, "color": {"field": "t", "type": "nominal", "scale": {"domain": ["Bi", "V", "O"], "range": ["#FF00FF", "#1EEE1E", "#FF0000"]}, "legend": null}}},
            {"data": {"values": [{"t": "BiVO", "e": 3.47, "d": 5.58}]},
             "mark": {"type": "text", "align": "right", "baseline": "alphabetic", "fontSize": 30, "color": "black"},
             "encoding": {"text": {"field": "t"}}},
            {"data": {"values": [{"t": "4", "e": 3.48, "d": 5.21}]},
             "mark": {"type": "text", "align": "left", "baseline": "alphabetic", "fontSize": 19, "color": "black"},
             "encoding": {"text": {"field": "t"}}}
          ],
          "resolve": {"scale": {"color": "independent"}}
        }
      ]
    },
    {
      "spacing": 0,
      "bounds": "flush",
      "vconcat": [
        {
          "width": 440, "height": 217,
          "encoding": {
            "x": {"field": "e", "type": "quantitative", "scale": {"domain": [-4, 4], "nice": false, "zero": false},
                  "axis": {"values": [-4,-3.5,-3,-2.5,-2,-1.5,-1,-0.5,0,0.5,1,1.5,2,2.5,3,3.5,4], "labels": false, "title": null, "tickSize": {"condition": {"test": "datum.value % 1 === 0", "value": -8}, "value": -5}}},
            "y": {"field": "d", "type": "quantitative", "scale": {"domain": [-10, 10], "nice": false},
                  "axis": {"ticks": false, "labels": false, "title": "DOS (state/eV)", "titleAngle": -90, "titleX": -36, "titleY": 193, "titleAlign": "center", "titleBaseline": "alphabetic"}}
          },
          "layer": [
            {"data": {"name": "bTop"}, "mark": {"type": "line"},
             "encoding": {"color": {"field": "el", "type": "nominal", "scale": {"domain": ["O", "Co", "Fe"], "range": ["#FFB3BE", "#1C8BFF", "#2E9B4E"]}, "legend": null}, "detail": {"field": "sp", "type": "nominal"}}},
            {"data": {"values": [{"t": "Fe", "e": -3.745, "d": 5.35}, {"t": "Co", "e": -2.98, "d": 5.35}, {"t": "O", "e": -2.145, "d": 5.35}]},
             "mark": {"type": "text", "align": "left", "baseline": "alphabetic", "fontSize": 25},
             "encoding": {"text": {"field": "t"}, "color": {"field": "t", "type": "nominal", "scale": {"domain": ["Fe", "Co", "O"], "range": ["#808000", "#0000FF", "#FF0000"]}, "legend": null}}},
            {"data": {"values": [{"t": "FeCoO", "e": 3.66, "d": 6.04}]},
             "mark": {"type": "text", "align": "right", "baseline": "alphabetic", "fontSize": 30, "color": "black"},
             "encoding": {"text": {"field": "t"}}},
            {"data": {"values": [{"t": "x", "e": 3.68, "d": 5.58}]},
             "mark": {"type": "text", "align": "left", "baseline": "alphabetic", "fontSize": 20, "fontStyle": "italic", "color": "black"},
             "encoding": {"text": {"field": "t"}}},
            {"data": {"values": [{"t": "b", "e": -4.75, "d": 8.99}]},
             "mark": {"type": "text", "align": "left", "baseline": "alphabetic", "fontSize": 42, "color": "black"},
             "encoding": {"text": {"field": "t"}}}
          ],
          "resolve": {"scale": {"color": "independent"}}
        },
        {
          "width": 440, "height": 217,
          "encoding": {
            "x": {"field": "e", "type": "quantitative", "scale": {"domain": [-4, 4], "nice": false, "zero": false},
                  "axis": {"values": [-4,-3.5,-3,-2.5,-2,-1.5,-1,-0.5,0,0.5,1,1.5,2,2.5,3,3.5,4], "labelExpr": "datum.value % 1 === 0 ? '' + datum.value : ''", "labelFlush": false, "labelOverlap": false, "labelPadding": 22, "title": "Energy (eV)", "titlePadding": 6, "tickSize": {"condition": {"test": "datum.value % 1 === 0", "value": -8}, "value": -5}}},
            "y": {"field": "d", "type": "quantitative", "scale": {"domain": [-10, 10], "nice": false}, "axis": null}
          },
          "layer": [
            {"data": {"name": "bBot"}, "mark": {"type": "line"},
             "encoding": {"color": {"field": "el", "type": "nominal", "scale": {"domain": ["Bi", "V", "O"], "range": ["#FF00FF", "#1EEE1E", "#FF0000"]}, "legend": null}, "detail": {"field": "sp", "type": "nominal"}}},
            {"data": {"values": [{"t": "Bi", "e": -3.78, "d": 6.41}, {"t": "V", "e": -3.02, "d": 6.41}, {"t": "O", "e": -2.47, "d": 6.41}]},
             "mark": {"type": "text", "align": "left", "baseline": "alphabetic", "fontSize": 25},
             "encoding": {"text": {"field": "t"}, "color": {"field": "t", "type": "nominal", "scale": {"domain": ["Bi", "V", "O"], "range": ["#FF00FF", "#1EEE1E", "#FF0000"]}, "legend": null}}},
            {"data": {"values": [{"t": "BiVO", "e": 3.36, "d": 6.41}]},
             "mark": {"type": "text", "align": "right", "baseline": "alphabetic", "fontSize": 30, "color": "black"},
             "encoding": {"text": {"field": "t"}}},
            {"data": {"values": [{"t": "4", "e": 3.37, "d": 5.85}]},
             "mark": {"type": "text", "align": "left", "baseline": "alphabetic", "fontSize": 19, "color": "black"},
             "encoding": {"text": {"field": "t"}}}
          ],
          "resolve": {"scale": {"color": "independent"}}
        }
      ]
    }
  ]
}
